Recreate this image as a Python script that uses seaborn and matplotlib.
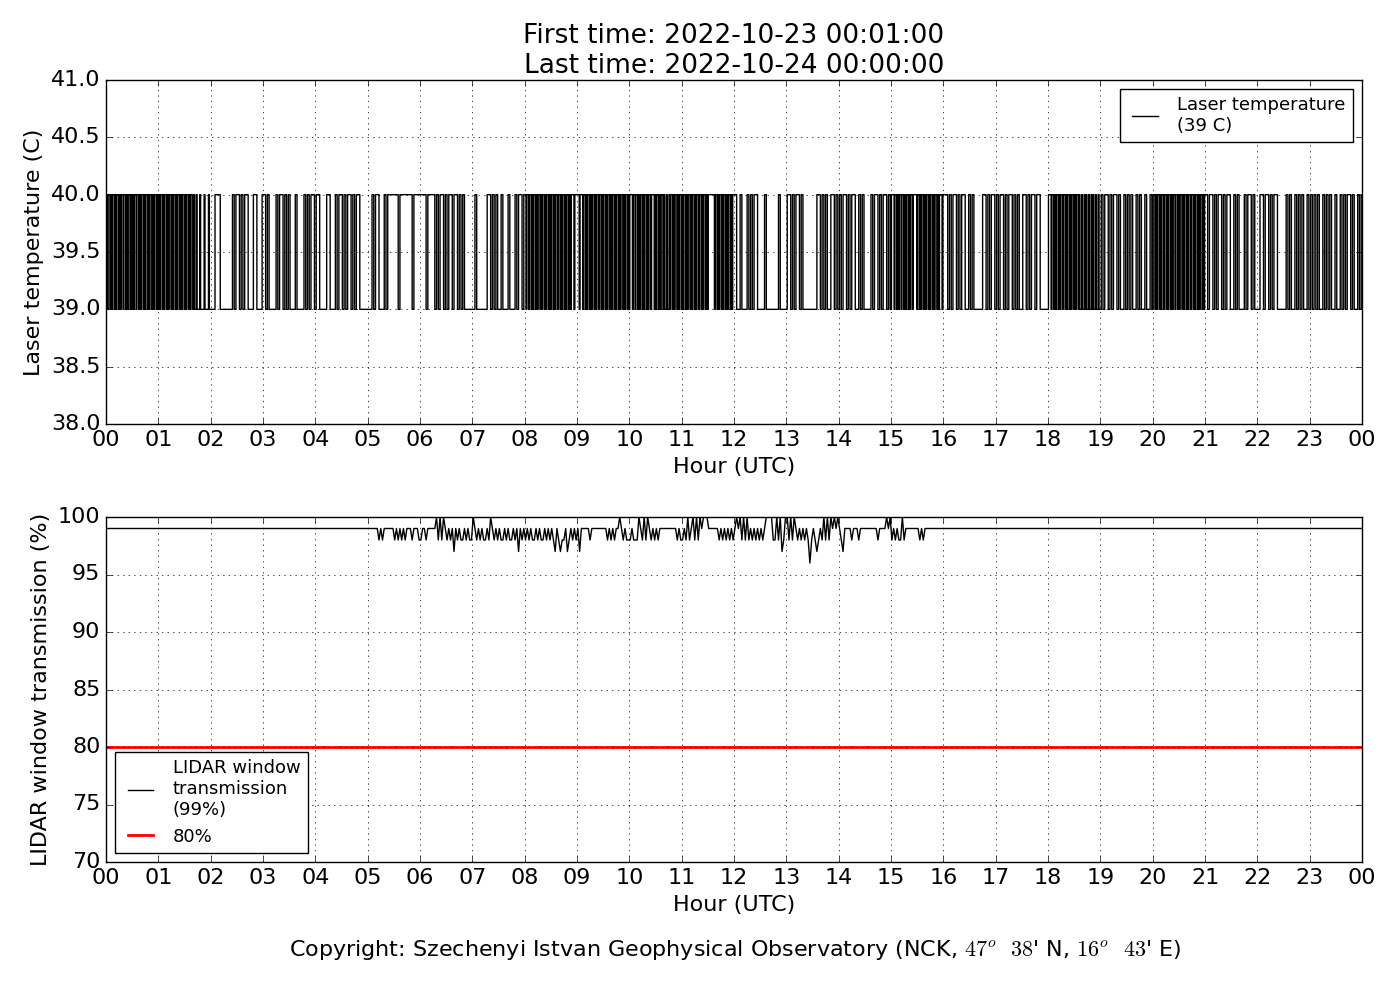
import numpy as np
import pandas as pd
import seaborn as sns
import matplotlib
matplotlib.use("Agg")
import matplotlib.pyplot as plt

# laser temperature, one string per hour (2-minute or 1-minute steps): '0' = 39 C, '1' = 40 C
temp_hours = [
    "101101011010110101101101011010101101101011010110101101011010",  # 00
    "101101011010110101101011010110101101011010010001000010000100",  # 01
    "001110000000101101011000110001",  # 02
    "101000010110101000100001010110",  # 03
    "110000110001011010110101100000",  # 04
    "001011000101111110111111101111",  # 05
    "111011110101101011011010100000",  # 06
    "010000001101010010001000101101",  # 07
    "101101101011010110101101011010110101101101011010110101110111",  # 08
    "110111011010110101101011011010110101101011010110101101011010",  # 09
    "111011011010110101101011011101011010110100100101101011010110",  # 10
    "101101011010110101101101011010111111101101011010110101101011",  # 11
    "100100010101100001000000010000",  # 12
    "110101101000000001101010011010",  # 13
    "101101011001010000101101011010",  # 14
    "111011010110110101101011011110110101101011010110101101011101",  # 15
    "110101101011001010000011010110",  # 16
    "101101011010100110101101100000",  # 17
    "111011010110101101101011010110101101001001010010010100100100",  # 18
    "101101011010010101001010010010",  # 19
    "110101101011011010110101101101011010110101101101011010110101",  # 20
    "101101011010110010100010110100",  # 21
    "011011010110000010100101010010",  # 22
    "101010010101001001010110100101",  # 23
]
temp_low = 39

# LIDAR window transmission, one string per hour, 2-minute steps: digit d = (100 - d) %
trans_hours = [
    "111111111111111111111111111111",  # 00
    "111111111111111111111111111111",  # 01
    "111111111111111111111111111111",  # 02
    "111111111111111111111111111111",  # 03
    "111111111111111111111111111111",  # 04
    "111111212111111212121211121112",  # 05
    "211211111020201212131212212122",  # 06
    "012121221201212122121221213121",  # 07
    "212122121221212123123221321212",  # 08
    "131111121111111112121211012122",  # 09
    "212220120201212121111111111212",  # 10
    "212021020201000111111212121212",  # 11
    "101020202121212121000022020320",  # 12
    "020201212121242123212020201010",  # 13
    "123111121112111111111121111010",  # 14
    "212122021111111121211111111111",  # 15
    "111111111111111111111111111111",  # 16
    "111111111111111111111111111111",  # 17
    "111111111111111111111111111111",  # 18
    "111111111111111111111111111111",  # 19
    "111111111111111111111111111111",  # 20
    "111111111111111111111111111111",  # 21
    "111111111111111111111111111111",  # 22
    "111111111111111111111111111111",  # 23
]
trans_limit = 80

hour_labels = ["%02d" % (h % 24) for h in range(25)]

t_rows = []
for h, s in enumerate(temp_hours):
    for i, c in enumerate(s):
        t_rows.append((h + (i + 0.5) / len(s), temp_low + int(c)))
temp_df = pd.DataFrame(t_rows, columns=["hour", "temp"])

w_rows = []
for h, s in enumerate(trans_hours):
    for i, c in enumerate(s):
        w_rows.append((h + (i + 0.5) / len(s), 100 - int(c)))
trans_df = pd.DataFrame(w_rows, columns=["hour", "trans"])

plt.style.use("classic")
fig = plt.figure(figsize=(14, 10), dpi=100, facecolor="white")
ax1 = fig.add_axes([0.0757, 0.576, 0.8972, 0.344])
ax2 = fig.add_axes([0.0757, 0.138, 0.8972, 0.345])

sns.lineplot(data=temp_df, x="hour", y="temp", ax=ax1, color="k", lw=1,
             drawstyle="steps-post", estimator=None,
             label="Laser temperature\n(39 C)")
ax1.set_xlim(0, 24)
ax1.set_ylim(38, 41)
ax1.set_yticks(np.arange(38, 41.01, 0.5))
ax1.set_yticklabels(["%.1f" % v for v in np.arange(38, 41.01, 0.5)])
ax1.set_title("First time: 2022-10-23 00:01:00\nLast time: 2022-10-24 00:00:00",
              fontsize=19, pad=5)
ax1.set_ylabel("Laser temperature (C)", fontsize=16)
ax1.legend(loc="upper right", fontsize=13)

sns.lineplot(data=trans_df, x="hour", y="trans", ax=ax2, color="k", lw=1,
             estimator=None, label="LIDAR window\ntransmission\n(99%)")
ax2.axhline(trans_limit, color="r", lw=2, label="80%")
ax2.set_xlim(0, 24)
ax2.set_ylim(70, 100)
ax2.set_yticks(range(70, 101, 5))
ax2.set_ylabel("LIDAR window transmission (%)", fontsize=16)
ax2.legend(loc="lower left", fontsize=13)

for ax in (ax1, ax2):
    ax.set_xticks(range(25))
    ax.set_xticklabels(hour_labels)
    ax.set_xlabel("Hour (UTC)", fontsize=16)
    ax.tick_params(labelsize=16)
    ax.grid(True, linestyle=":", color="k", lw=0.5)

fig.text(0.525, 0.05,
         "Copyright: Szechenyi Istvan Geophysical Observatory (NCK, "
         "$47^o$  $38$' N, $16^o$  $43$' E)",
         ha="center", va="center", fontsize=16)

fig.savefig("out.png", dpi=100, facecolor="white")
